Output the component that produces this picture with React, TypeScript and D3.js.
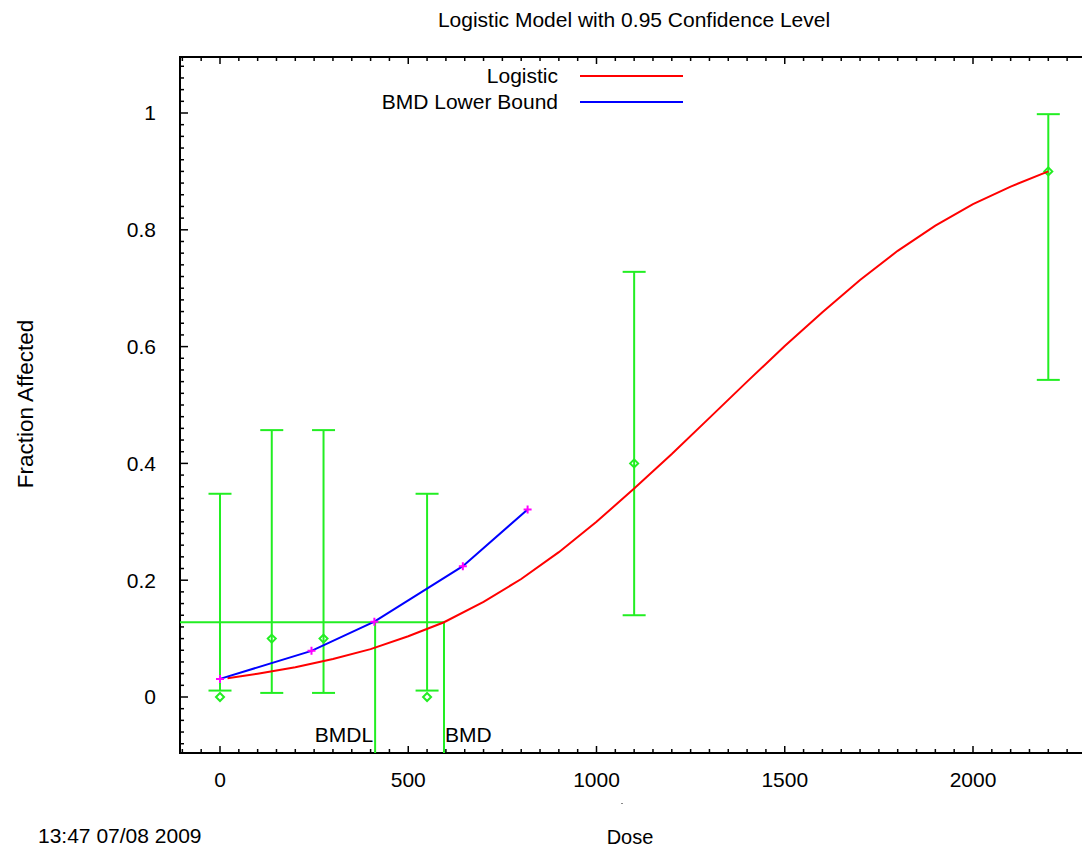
import React from 'react';
import * as d3 from 'd3';

// observed data (dose groups) with 95% confidence limits
const doses = [0, 137.5, 275, 550, 1100, 2200];
const observed = [0, 0.1, 0.1, 0, 0.4, 0.9];
const lowerCI = [0.011, 0.007, 0.007, 0.011, 0.14, 0.543];
const upperCI = [0.348, 0.457, 0.457, 0.348, 0.728, 0.998];

// fitted logistic curve
const logisticDose = [20, 100, 200, 300, 400, 500, 595, 700, 800, 900, 1000, 1100, 1200, 1300, 1400, 1500, 1600, 1700, 1800, 1900, 2000, 2100, 2200];
const logisticFrac = [0.032, 0.040, 0.051, 0.065, 0.082, 0.104, 0.128, 0.163, 0.202, 0.248, 0.300, 0.357, 0.416, 0.478, 0.540, 0.601, 0.659, 0.714, 0.764, 0.807, 0.844, 0.874, 0.900];

// BMD lower bound curve
const lowerDose = [0, 243, 410, 645, 817];
const lowerFrac = [0.031, 0.079, 0.129, 0.224, 0.321];

const bmrLevel = 0.128;
const bmdValue = 595;
const bmdlValue = 412;

const xTicks = [0, 500, 1000, 1500, 2000];
const yTicks = [0, 0.2, 0.4, 0.6, 0.8, 1];

const W = 1082, H = 848;
const left = 180, top = 57, bottom = 753, right = 1082;
const font = 'Liberation Sans, Arial, sans-serif';
const green = '#22ee22';

const App = () => {
    const x = d3.scaleLinear().domain([0, 2000]).range([220, 973]);
    const y = d3.scaleLinear().domain([0, 1]).range([697, 113]);

    const xMinor = d3.range(-100, 2300, 50).filter(v => x(v) > left + 1 && x(v) < right);
    const yMinor = d3.range(-0.08, 1.1, 0.02).map(v => +v.toFixed(2)).filter(v => y(v) > top + 1 && y(v) < bottom - 1);

    const line = d3.line<[number, number]>().x(d => x(d[0])).y(d => y(d[1]));
    const fitPath = line(logisticDose.map((d, i) => [d, logisticFrac[i]]));
    const lowPath = line(lowerDose.map((d, i) => [d, lowerFrac[i]]));

    const isMajorX = (v: number) => v % 500 === 0;
    const isMajorY = (v: number) => Math.abs(Math.round(v * 5) - v * 5) < 1e-6;

    return (
        <svg width={W} height={H} style={{ position: 'absolute', left: 0, top: 0, background: '#fff' }}
             fontFamily={font}>
            {/* title */}
            <text x={634} y={27} textAnchor="middle" fontSize={21}>Logistic Model with 0.95 Confidence Level</text>

            {/* frame */}
            <line x1={left} x2={right} y1={top} y2={top} stroke="#000" strokeWidth={2} />
            <line x1={left} x2={right} y1={bottom} y2={bottom} stroke="#000" strokeWidth={2} />
            <line x1={left} x2={left} y1={top - 1} y2={bottom + 1} stroke="#000" strokeWidth={2} />

            {/* x ticks, bottom and top */}
            {xMinor.map(v => (
                <g key={'xt' + v}>
                    <line x1={x(v)} x2={x(v)} y1={bottom} y2={bottom - (isMajorX(v) ? 7 : 4)} stroke="#000" strokeWidth={1.5} />
                    <line x1={x(v)} x2={x(v)} y1={top} y2={top + (isMajorX(v) ? 7 : 4)} stroke="#000" strokeWidth={1.5} />
                </g>
            ))}
            {xTicks.map(v => (
                <text key={'xl' + v} x={x(v)} y={787} textAnchor="middle" fontSize={21}>{v}</text>
            ))}

            {/* y ticks */}
            {yMinor.map(v => (
                <line key={'yt' + v} x1={left} x2={left + (isMajorY(v) ? 8 : 4)} y1={y(v)} y2={y(v)} stroke="#000" strokeWidth={1.5} />
            ))}
            {yTicks.map(v => (
                <text key={'yl' + v} x={156} y={y(v)} dy="0.35em" textAnchor="end" fontSize={21}>{v}</text>
            ))}

            {/* axis titles */}
            <text x={630} y={844} textAnchor="middle" fontSize={20}>Dose</text>
            <text transform="translate(33,404) rotate(-90)" textAnchor="middle" fontSize={22.5}>Fraction Affected</text>
            <text x={38} y={843} fontSize={21}>13:47 07/08 2009</text>
            <rect x={621} y={803} width={2} height={1} fill="#888" />

            {/* legend */}
            <text x={558} y={83} textAnchor="end" fontSize={21}>Logistic</text>
            <line x1={580} x2={683} y1={76} y2={76} stroke="#ff0000" strokeWidth={2} />
            <text x={558} y={109} textAnchor="end" fontSize={21}>BMD Lower Bound</text>
            <line x1={580} x2={683} y1={102} y2={102} stroke="#0000ff" strokeWidth={2} />

            {/* error bars */}
            {doses.map((d, i) => (
                <g key={'eb' + i} stroke={green} strokeWidth={2} fill="none">
                    <line x1={x(d)} x2={x(d)} y1={y(lowerCI[i])} y2={y(upperCI[i])} />
                    <line x1={x(d) - 11.5} x2={x(d) + 11.5} y1={y(lowerCI[i])} y2={y(lowerCI[i])} />
                    <line x1={x(d) - 11.5} x2={x(d) + 11.5} y1={y(upperCI[i])} y2={y(upperCI[i])} />
                    <path d={`M${x(d)},${y(observed[i]) - 4}l4,4l-4,4l-4,-4z`} />
                </g>
            ))}

            {/* BMD / BMDL markers */}
            <g stroke={green} strokeWidth={2}>
                <line x1={left} x2={x(bmdValue)} y1={y(bmrLevel)} y2={y(bmrLevel)} />
                <line x1={x(bmdlValue)} x2={x(bmdlValue)} y1={y(bmrLevel)} y2={bottom} />
                <line x1={x(bmdValue)} x2={x(bmdValue)} y1={y(bmrLevel)} y2={bottom} />
            </g>
            <text x={x(bmdlValue) - 2} y={742} textAnchor="end" fontSize={21}>BMDL</text>
            <text x={x(bmdValue) + 1} y={742} fontSize={21}>BMD</text>

            {/* curves */}
            <path d={fitPath ?? ''} fill="none" stroke="#ff0000" strokeWidth={2} />
            <path d={lowPath ?? ''} fill="none" stroke="#0000ff" strokeWidth={2} />
            {lowerDose.map((d, i) => (
                <path key={'pl' + i} d={`M${x(d) - 4},${y(lowerFrac[i])}h8M${x(d)},${y(lowerFrac[i]) - 4}v8`}
                      stroke="#ff00ff" strokeWidth={2} />
            ))}
        </svg>
    );
};

export default App;
